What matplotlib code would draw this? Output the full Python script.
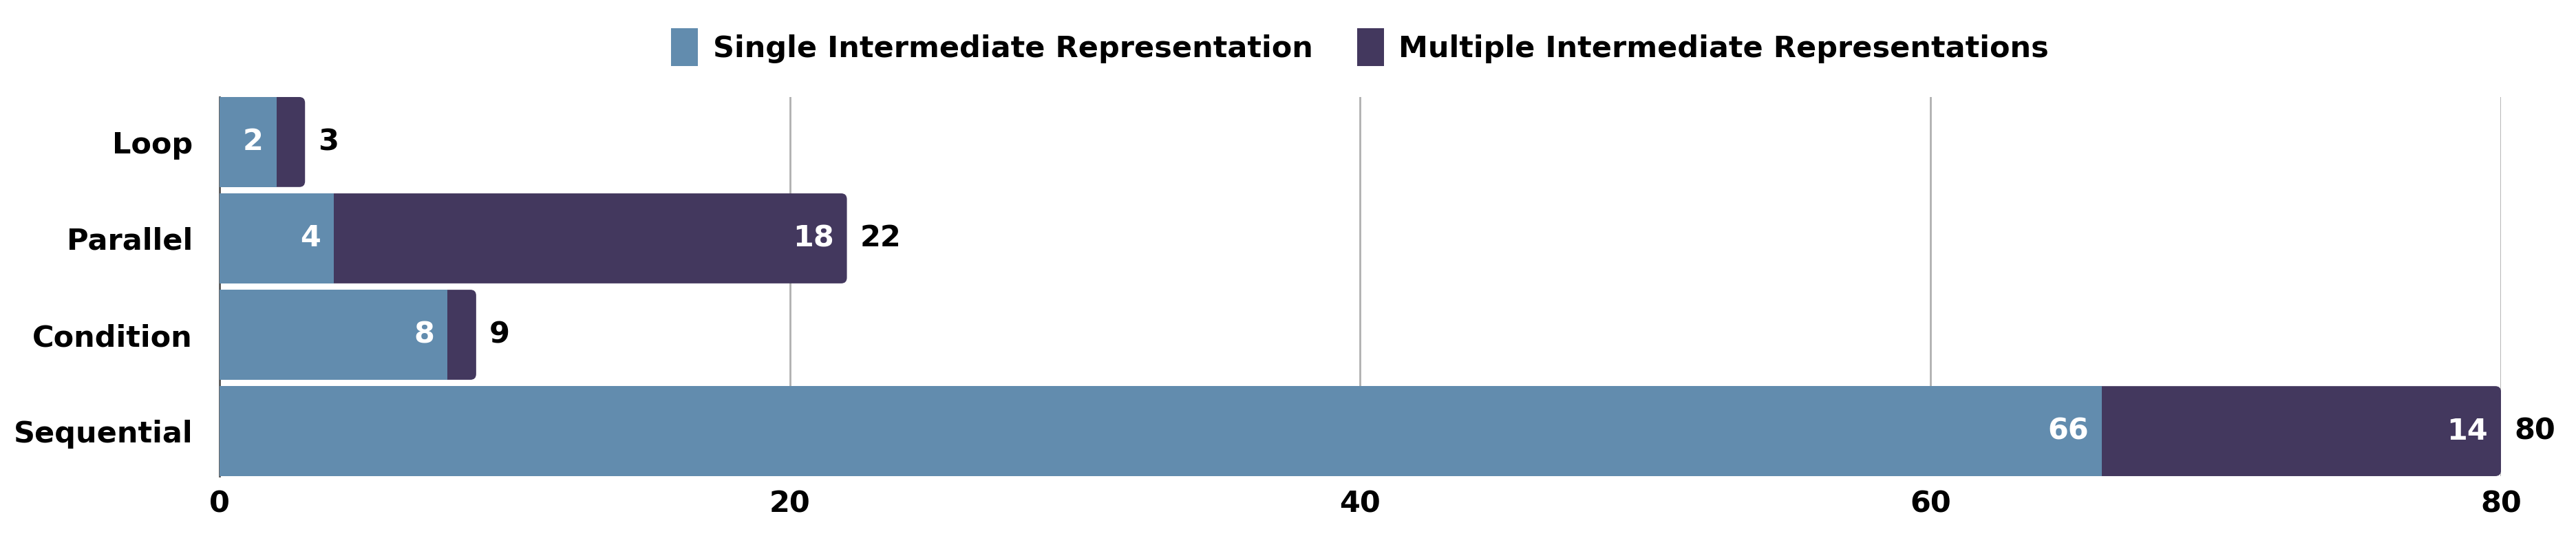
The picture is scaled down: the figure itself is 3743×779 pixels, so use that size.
import numpy as np
import matplotlib.pyplot as plt
from matplotlib.patches import FancyBboxPatch, Patch

# data
categories = ["Loop", "Parallel", "Condition", "Sequential"]
single_ir = [2, 4, 8, 66]
multi_ir = [1, 18, 1, 14]
series_names = ["Single Intermediate Representation", "Multiple Intermediate Representations"]
x_ticks = [0, 20, 40, 60, 80]

blue = "#628cae"
purple = "#43385e"
fs = 31

plt.rcParams["font.family"] = "DejaVu Sans"
plt.rcParams["font.weight"] = "bold"

fig = plt.figure(figsize=(37.43, 7.79), dpi=100)
ax = fig.add_axes([0.0852, 0.1117, 0.9709 - 0.0852, 0.819 - 0.1117])

y = np.arange(len(categories))
single = np.array(single_ir)
multi = np.array(multi_ir)
total = single + multi
h = 0.934

b1 = ax.barh(y, single, height=h, color=blue, zorder=3)
b2 = ax.barh(y, multi, left=single, height=h, color=purple, zorder=2)

# rounded right end for the stacked bar
for p in b2.patches:
    p.set_visible(False)
    rb = FancyBboxPatch((0, p.get_y()), p.get_x() + p.get_width(), p.get_height(),
                        boxstyle="round,pad=0,rounding_size=0.2", mutation_aspect=0.3,
                        facecolor=purple, edgecolor="none", zorder=2)
    ax.add_patch(rb)

off = 19 * 72 / 100
for i in range(len(categories)):
    if single[i] >= 2:
        ax.annotate(str(single[i]), (single[i], y[i]), xytext=(-off, 0), textcoords="offset points",
                    ha="right", va="center", color="white", fontsize=fs, fontweight="bold", zorder=5)
    if multi[i] >= 2:
        ax.annotate(str(multi[i]), (total[i], y[i]), xytext=(-off, 0), textcoords="offset points",
                    ha="right", va="center", color="white", fontsize=fs, fontweight="bold", zorder=5)
    ax.annotate(str(total[i]), (total[i], y[i]), xytext=(off, 0), textcoords="offset points",
                ha="left", va="center", color="black", fontsize=fs, fontweight="bold", zorder=5)

ax.set_xlim(0, 80)
ax.set_ylim(len(categories) - 1 + h / 2, -h / 2)
ax.set_yticks(y)
ax.set_yticklabels(categories, fontsize=fs, fontweight="bold")
ax.set_xticks(x_ticks)
ax.set_xticklabels([str(v) for v in x_ticks], fontsize=fs, fontweight="bold")
ax.tick_params(axis="y", length=0, pad=28)
ax.tick_params(axis="x", length=0, pad=14)

ax.grid(axis="x", color="#b0b0b0", linewidth=2, zorder=0)
ax.set_axisbelow(True)
for s in ["top", "right", "bottom"]:
    ax.spines[s].set_visible(False)
ax.spines["left"].set_color("#555555")
ax.spines["left"].set_linewidth(2)
ax.spines["left"].set_zorder(1)

handles = [Patch(facecolor=blue, edgecolor="none"), Patch(facecolor=purple, edgecolor="none")]
leg = fig.legend(handles=handles, labels=series_names, loc="center", bbox_to_anchor=(0.528, 0.912),
                 ncol=2, frameon=False, fontsize=fs, handlelength=0.9, handleheight=1.6,
                 handletextpad=0.5, columnspacing=1.5)
for t in leg.get_texts():
    t.set_fontweight("bold")

fig.savefig("out.png", dpi=100)
